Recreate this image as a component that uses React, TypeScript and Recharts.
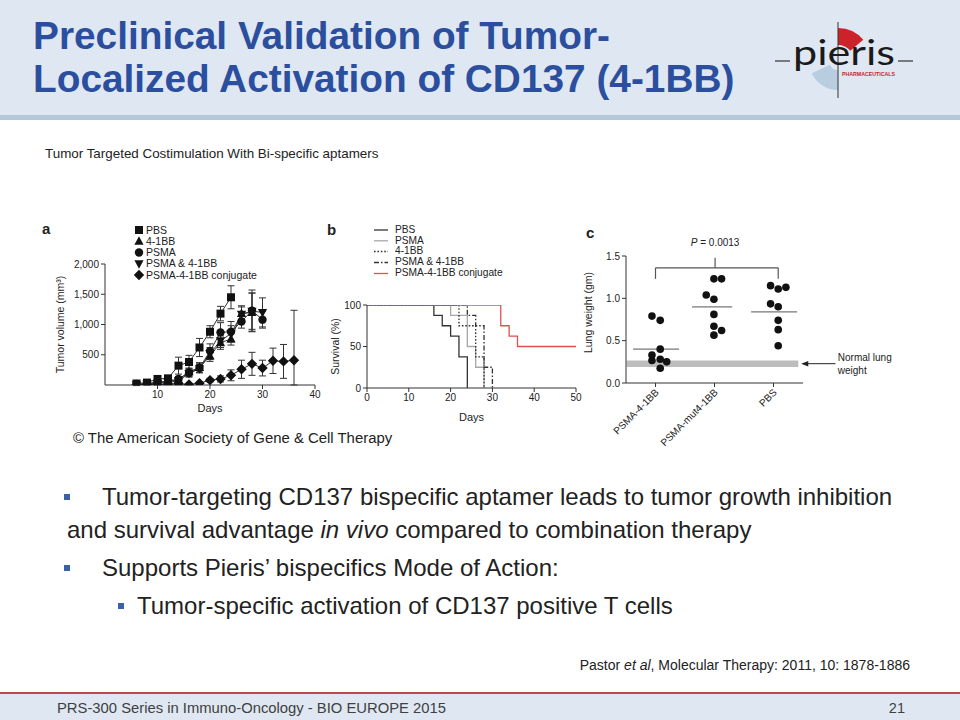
import React from 'react';
import {
  LineChart, Line, XAxis, YAxis, ErrorBar, ScatterChart, Scatter,
  ReferenceLine, ReferenceArea, ReferenceDot,
} from 'recharts';

const FONT = '"Liberation Sans", Arial, Helvetica, sans-serif';
const INK = '#222';

// ---------------- Panel a: tumor volume ----------------
const tumorDays = [6, 8, 10, 12, 14, 16, 18, 20, 22, 24, 26, 28, 30, 32, 34, 36];
const tumorPBS = [25, 40, 100, 110, 320, 380, 620, 880, 1180, 1450];
const tumorPBSErr = [15, 20, 30, 40, 140, 110, 150, 100, 120, 190];
const tumor41BB = [10, 20, 40, 50, 90, 220, 290, 480, 700, 760, 1180, 1200];
const tumor41BBErr = [10, 10, 15, 20, 40, 60, 80, 90, 110, 100, 130, 320];
const tumorPSMA = [10, 20, 50, 60, 100, 200, 280, 560, 870, 880, 1050, 1230, 1080];
const tumorPSMAErr = [10, 15, 20, 20, 40, 60, 70, 120, 160, 170, 110, 340, 140];
const tumorCombo = [5, 15, 30, 40, 70, 190, 270, 520, 730, 850, 1170, 1220, 1200];
const tumorComboErr = [10, 10, 15, 20, 40, 60, 70, 100, 110, 130, 120, 300, 240];
const tumorConj = [0, 10, 10, 15, 20, 10, 30, 80, 100, 160, 260, 350, 280, 400, 390, 410];
const tumorConjErr: any[] = [10, 10, 10, 10, 15, 10, 20, 30, 50, 90, 150, 190, 130, 210, 280, [410, 825]];
const tumorTicksX = [10, 20, 30, 40];
const tumorTicksY = [500, 1000, 1500, 2000];
const tumorNames = ['PBS', '4-1BB', 'PSMA', 'PSMA & 4-1BB', 'PSMA-4-1BB conjugate'];

// ---------------- Panel b: survival ----------------
const survPBSDays = [0, 16, 18, 20, 22, 24];
const survPBS = [100, 87.5, 75, 62.5, 37.5, 0];
const survPSMADays = [0, 20, 24, 26, 28];
const survPSMA = [100, 87.5, 50, 25, 0];
const surv41BBDays = [0, 22, 26, 28];
const surv41BB = [100, 75, 37.5, 0];
const survComboDays = [0, 24, 26, 28, 30];
const survCombo = [100, 87.5, 75, 25, 0];
const survConjDays = [0, 32, 34, 36, 50];
const survConj = [100, 75, 62.5, 50, 50];
const survTicksX = [0, 10, 20, 30, 40, 50];
const survTicksY = [0, 50, 100];

// ---------------- Panel c: lung weight ----------------
const lungCategories = ['PSMA-4-1BB', 'PSMA-mut4-1BB', 'PBS'];
const lungConj = [0.79, 0.74, 0.40, 0.33, 0.28, 0.265, 0.25, 0.175];
const lungConjJitter = [-0.06, 0.08, 0.08, -0.06, 0.08, -0.06, 0.19, 0.08];
const lungMut = [1.23, 1.23, 1.04, 0.99, 0.81, 0.67, 0.62, 0.565];
const lungMutJitter = [-0.01, 0.12, -0.14, -0.01, -0.01, -0.01, 0.12, -0.01];
const lungPBS = [1.15, 1.13, 1.11, 0.935, 0.90, 0.74, 0.63, 0.44];
const lungPBSJitter = [-0.05, 0.21, 0.08, -0.05, 0.08, 0.08, 0.08, 0.08];
const lungMeans = [0.40, 0.90, 0.84];
const normalLungBand = [0.19, 0.265];
const lungTicksY = [0, 0.5, 1.0, 1.5];
const pValueText = '0.0013';

const mk = (days: number[], vals: number[], errs?: any[]) =>
  vals.map((v, i) => ({ day: days[i], v, e: errs ? errs[i] : 0 }));

const tumorSeries = [
  { name: tumorNames[4], marker: 'diamond', data: mk(tumorDays, tumorConj, tumorConjErr) },
  { name: tumorNames[1], marker: 'up', data: mk(tumorDays, tumor41BB, tumor41BBErr) },
  { name: tumorNames[3], marker: 'down', data: mk(tumorDays, tumorCombo, tumorComboErr) },
  { name: tumorNames[2], marker: 'circle', data: mk(tumorDays, tumorPSMA, tumorPSMAErr) },
  { name: tumorNames[0], marker: 'square', data: mk(tumorDays, tumorPBS, tumorPBSErr) },
];

const survSeries = [
  { name: 'PBS', color: '#333', dash: undefined, data: mk(survPBSDays, survPBS) },
  { name: 'PSMA', color: '#a8a8a8', dash: undefined, data: mk(survPSMADays, survPSMA) },
  { name: '4-1BB', color: '#333', dash: '1.6 1.8', data: mk(surv41BBDays, surv41BB) },
  { name: 'PSMA & 4-1BB', color: '#333', dash: '5 2 1.5 2', data: mk(survComboDays, survCombo) },
  { name: 'PSMA-4-1BB conjugate', color: '#e0504f', dash: undefined, data: mk(survConjDays, survConj) },
];

const lungGroup = (vals: number[], jit: number[], c: number) =>
  vals.map((y, i) => ({ x: c + jit[i], y }));
const lungData = [
  lungGroup(lungConj, lungConjJitter, 1),
  lungGroup(lungMut, lungMutJitter, 2),
  lungGroup(lungPBS, lungPBSJitter, 3),
];

function Marker({ kind, cx, cy }: any) {
  if (cx == null || cy == null) return null;
  const f = '#111';
  switch (kind) {
    case 'square':
      return <rect x={cx - 4} y={cy - 4} width={8} height={8} fill={f} />;
    case 'up':
      return <polygon points={`${cx},${cy - 5} ${cx + 4.6},${cy + 3.5} ${cx - 4.6},${cy + 3.5}`} fill={f} />;
    case 'down':
      return <polygon points={`${cx},${cy + 5} ${cx + 4.6},${cy - 3.5} ${cx - 4.6},${cy - 3.5}`} fill={f} />;
    case 'diamond':
      return <polygon points={`${cx},${cy - 5.2} ${cx + 5.2},${cy} ${cx},${cy + 5.2} ${cx - 5.2},${cy}`} fill={f} />;
    default:
      return <circle cx={cx} cy={cy} r={4.2} fill={f} />;
  }
}

const fmtThousands = (v: number) => String(v).replace(/\B(?=(\d{3})+(?!\d))/g, ',');

function VTitle({ viewBox, text, dx, dy = 0, size = 10.5 }: any) {
  if (!viewBox) return null;
  const { x, y, height } = viewBox;
  const cx = x + dx;
  const cy = y + height / 2 + dy;
  return (
    <text x={cx} y={cy} transform={`rotate(-90 ${cx} ${cy})`} textAnchor="middle"
      dominantBaseline="central" fontSize={size} fill={INK} fontFamily={FONT}>{text}</text>
  );
}
function HTitle({ viewBox, text, dy, size = 11 }: any) {
  if (!viewBox) return null;
  const { x, y, width } = viewBox;
  return (
    <text x={x + width / 2} y={y + dy} textAnchor="middle" dominantBaseline="central"
      fontSize={size} fill={INK} fontFamily={FONT}>{text}</text>
  );
}

function CatTick({ x, y, payload }: any) {
  const label = lungCategories[Math.round(payload.value) - 1];
  return (
    <g transform={`translate(${x + 4},${y + 4})`}>
      <text x={0} y={0} textAnchor="end" transform="rotate(-45)" fontSize={10} fill={INK} fontFamily={FONT}>{label}</text>
    </g>
  );
}

const axisProps = {
  stroke: '#333',
  tick: { fontSize: 10, fill: INK },
  tickSize: 4,
  tickMargin: 2,
};

const T = ({ x, y, size, children, style }: any) => (
  <div style={{ position: 'absolute', left: x, top: y, fontSize: size, lineHeight: `${size}px`, whiteSpace: 'nowrap', ...style }}>
    {children}
  </div>
);

function sector(cx: number, cy: number, r1: number, r2: number, a0: number, a1: number) {
  const p = (r: number, a: number) => {
    const t = (a * Math.PI) / 180;
    return `${(cx + r * Math.sin(t)).toFixed(2)},${(cy - r * Math.cos(t)).toFixed(2)}`;
  };
  return `M${p(r2, a0)} A${r2},${r2} 0 0 1 ${p(r2, a1)} L${p(r1, a1)} A${r1},${r1} 0 0 0 ${p(r1, a0)} Z`;
}

function Logo() {
  return (
    <svg style={{ position: 'absolute', left: 760, top: 15 }} width={170} height={90} viewBox="760 15 170 90">
      <path d={sector(838, 61, 16, 33, 0, 50)} fill="#cc2229" />
      <path d={sector(838, 61, 9, 29, 180, 245)} fill="#b9cde0" />
      <line x1={838} y1={22} x2={838} y2={98} stroke="#333" strokeWidth={1} />
      <line x1={775} y1={61} x2={790} y2={61} stroke="#333" strokeWidth={1.2} />
      <line x1={898} y1={61} x2={913} y2={61} stroke="#333" strokeWidth={1.2} />
      <text x={793} y={65} fontSize={34} fontFamily="Lato, 'Open Sans', sans-serif" fontWeight={400}
        fill="#1a1a1a" textLength={102} lengthAdjust="spacingAndGlyphs">pieris</text>
      <text x={842} y={76} fontSize={5.5} fill="#c8202a" fontWeight={700} fontFamily={FONT}
        textLength={53} lengthAdjust="spacingAndGlyphs">PHARMACEUTICALS</text>
    </svg>
  );
}

function LegendA() {
  const ys = [230, 241.3, 252.5, 263.8, 275];
  const kinds = ['square', 'up', 'circle', 'down', 'diamond'];
  return (
    <>
      <svg style={{ position: 'absolute', left: 130, top: 220 }} width={20} height={62} viewBox="130 220 20 62">
        {kinds.map((k, i) => <Marker key={k} kind={k} cx={139} cy={ys[i]} />)}
      </svg>
      {tumorNames.map((n, i) => (
        <T key={n} x={146} y={ys[i] - 5.5} size={10.5}>{n}</T>
      ))}
    </>
  );
}

function LegendB() {
  const ys = [230, 240.8, 251.5, 262.5, 273.5];
  return (
    <>
      <svg style={{ position: 'absolute', left: 370, top: 222 }} width={22} height={58} viewBox="370 222 22 58">
        {survSeries.map((s, i) => (
          <line key={s.name} x1={374} x2={388} y1={ys[i]} y2={ys[i]} stroke={s.color} strokeWidth={1.3}
            strokeDasharray={s.dash} />
        ))}
      </svg>
      {survSeries.map((s, i) => (
        <T key={s.name} x={395} y={ys[i] - 5.3} size={10.2}>{s.name}</T>
      ))}
    </>
  );
}

const Bullet = ({ x, y, s = 6 }: any) => (
  <div style={{ position: 'absolute', left: x, top: y, width: s, height: s, background: '#3a62a8' }} />
);

export default function App() {
  return (
    <div style={{ position: 'fixed', left: 0, top: 0, width: 960, height: 720, background: '#fff', overflow: 'hidden', fontFamily: FONT, color: INK }}>
      {/* header */}
      <div style={{ position: 'absolute', left: 0, top: 0, width: 960, height: 115, background: '#dfe8f2' }} />
      <div style={{ position: 'absolute', left: 0, top: 115, width: 960, height: 5, background: '#b5c7da' }} />
      <div style={{ position: 'absolute', left: 33, top: 13.5, fontSize: 38.8, lineHeight: '43px', fontWeight: 700, color: '#2b4f9e', whiteSpace: 'nowrap' }}>
        Preclinical Validation of Tumor-<br />Localized Activation of CD137 (4-1BB)
      </div>
      <Logo />

      <T x={45} y={146.5} size={13.4} style={{ color: '#222' }}>Tumor Targeted Costimulation With Bi-specific aptamers</T>

      {/* panel letters */}
      <T x={42} y={221} size={15} style={{ fontWeight: 700 }}>a</T>
      <T x={327} y={222} size={15} style={{ fontWeight: 700 }}>b</T>
      <T x={586} y={225} size={15} style={{ fontWeight: 700 }}>c</T>

      {/* Panel a */}
      <div style={{ position: 'absolute', left: 40, top: 215 }}>
        <LineChart width={290} height={200} margin={{ top: 49, right: 15, bottom: 0, left: 10 }}>
          <XAxis type="number" dataKey="day" domain={[0, 40]} ticks={tumorTicksX} height={30} allowDataOverflow
            {...axisProps} label={<HTitle text="Days" dy={23} />} />
          <YAxis type="number" domain={[0, 2000]} ticks={tumorTicksY} width={55} allowDataOverflow
            tickFormatter={fmtThousands} {...axisProps}
            label={<VTitle text="Tumor volume (mm³)" dx={9.5} />} />
          {tumorSeries.map((s) => (
            <Line key={s.name} name={s.name} data={s.data} dataKey="v" stroke="#333" strokeWidth={1}
              isAnimationActive={false} activeDot={false} legendType="none"
              dot={(p: any) => <Marker key={`${s.name}-${p.index}`} kind={s.marker} cx={p.cx} cy={p.cy} />}>
              <ErrorBar dataKey="e" width={3.5} stroke="#333" strokeWidth={1} direction="y" isAnimationActive={false} />
            </Line>
          ))}
        </LineChart>
      </div>
      <LegendA />

      {/* Panel b */}
      <div style={{ position: 'absolute', left: 325, top: 215 }}>
        <LineChart width={260} height={210} margin={{ top: 90, right: 9, bottom: 0, left: 2 }}>
          <XAxis type="number" dataKey="day" domain={[0, 50]} ticks={survTicksX} height={37} allowDataOverflow
            {...axisProps} label={<HTitle text="Days" dy={29} />} />
          <YAxis type="number" domain={[0, 100]} ticks={survTicksY} width={40} allowDataOverflow {...axisProps}
            label={<VTitle text="Survival (%)" dx={8} />} />
          {survSeries.map((s) => (
            <Line key={s.name} name={s.name} data={s.data} dataKey="v" type="stepAfter" stroke={s.color}
              strokeWidth={1.3} strokeDasharray={s.dash} dot={false} activeDot={false}
              isAnimationActive={false} legendType="none" />
          ))}
        </LineChart>
      </div>
      <LegendB />

      {/* Panel c */}
      <div style={{ position: 'absolute', left: 580, top: 215 }}>
        <ScatterChart width={330} height={255} margin={{ top: 41, right: 107, bottom: 0, left: 0 }}>
          <XAxis type="number" dataKey="x" domain={[0.5, 3.5]} ticks={[1, 2, 3]} height={87} allowDataOverflow
            {...axisProps} tick={<CatTick />} />
          <YAxis type="number" dataKey="y" domain={[0, 1.5]} ticks={lungTicksY} width={46} allowDataOverflow
            tickFormatter={(v: number) => v.toFixed(1)} {...axisProps}
            label={<VTitle text="Lung weight (gm)" dx={8} dy={-7} />} />
          <ReferenceArea x1={0.51} x2={3.42} y1={normalLungBand[0]} y2={normalLungBand[1]}
            fill="#bdbdbd" fillOpacity={1} stroke="none" ifOverflow="visible" />
          {lungMeans.map((m, i) => (
            <ReferenceLine key={`m${i}`} segment={[{ x: i + 1 - 0.38, y: m }, { x: i + 1 + (i === 1 ? 0.3 : 0.4), y: m }]}
              stroke="#777" strokeWidth={1.3} ifOverflow="visible" />
          ))}
          {/* significance bracket */}
          <ReferenceLine segment={[{ x: 1.0, y: 1.23 }, { x: 1.0, y: 1.36 }]} stroke="#555" strokeWidth={1.2} ifOverflow="visible" />
          <ReferenceLine segment={[{ x: 1.0, y: 1.36 }, { x: 3.08, y: 1.36 }]} stroke="#555" strokeWidth={1.2} ifOverflow="visible" />
          <ReferenceLine segment={[{ x: 3.08, y: 1.36 }, { x: 3.08, y: 1.23 }]} stroke="#555" strokeWidth={1.2} ifOverflow="visible" />
          <ReferenceLine segment={[{ x: 2.01, y: 1.36 }, { x: 2.01, y: 1.48 }]} stroke="#555" strokeWidth={1.2} ifOverflow="visible" />
          <ReferenceDot x={2.01} y={1.66} r={0} ifOverflow="visible"
            shape={(p: any) => (
              <text x={p.cx} y={p.cy} textAnchor="middle" dominantBaseline="central" fontSize={10} fill={INK} fontFamily={FONT}>
                <tspan fontStyle="italic">P</tspan> = {pValueText}
              </text>
            )} />
          {/* normal lung weight arrow */}
          <ReferenceLine segment={[{ x: 3.5, y: 0.228 }, { x: 4.05, y: 0.228 }]} stroke="#222" strokeWidth={1} ifOverflow="visible" />
          <ReferenceDot x={3.47} y={0.228} r={0} ifOverflow="visible"
            shape={(p: any) => (
              <polygon points={`${p.cx},${p.cy} ${p.cx + 7},${p.cy - 2.8} ${p.cx + 7},${p.cy + 2.8}`} fill="#222" />
            )} />
          <ReferenceDot x={4.09} y={0.228} r={0} ifOverflow="visible"
            shape={(p: any) => (
              <text x={p.cx} y={p.cy} fontSize={10} fill={INK} fontFamily={FONT}>
                <tspan x={p.cx} dy={-3}>Normal lung</tspan>
                <tspan x={p.cx} dy={13}>weight</tspan>
              </text>
            )} />
          {lungData.map((d, i) => (
            <Scatter key={`g${i}`} name={lungCategories[i]} data={d} isAnimationActive={false} legendType="none"
              shape={(p: any) => <circle cx={p.cx} cy={p.cy} r={3.8} fill="#111" />} />
          ))}
        </ScatterChart>
      </div>

      <T x={73} y={431} size={14.9}>© The American Society of Gene &amp; Cell Therapy</T>

      {/* bullets */}
      <Bullet x={64} y={494} />
      <T x={102} y={485} size={24}>Tumor-targeting CD137 bispecific aptamer leads to tumor growth inhibition</T>
      <T x={67} y={518} size={24}>and survival advantage <i>in vivo</i> compared to combination therapy</T>
      <Bullet x={64} y={565} />
      <T x={102} y={556} size={24}>Supports Pieris’ bispecifics Mode of Action:</T>
      <Bullet x={118} y={603} s={5.5} />
      <T x={137} y={594} size={24}>Tumor-specific activation of CD137 positive T cells</T>

      <T x={0} y={658} size={14} style={{ width: 910, textAlign: 'right' }}>
        Pastor <i>et al</i>, Molecular Therapy: 2011, 10: 1878-1886
      </T>

      {/* footer */}
      <div style={{ position: 'absolute', left: 0, top: 692, width: 960, height: 2, background: '#c0474a' }} />
      <div style={{ position: 'absolute', left: 0, top: 694, width: 960, height: 26, background: '#dfe8f2' }} />
      <T x={57} y={700.5} size={14.8} style={{ color: '#404040' }}>PRS-300 Series in Immuno-Oncology - BIO EUROPE 2015</T>
      <T x={0} y={700.5} size={14.5} style={{ width: 905, textAlign: 'right', color: '#404040' }}>21</T>
    </div>
  );
}
